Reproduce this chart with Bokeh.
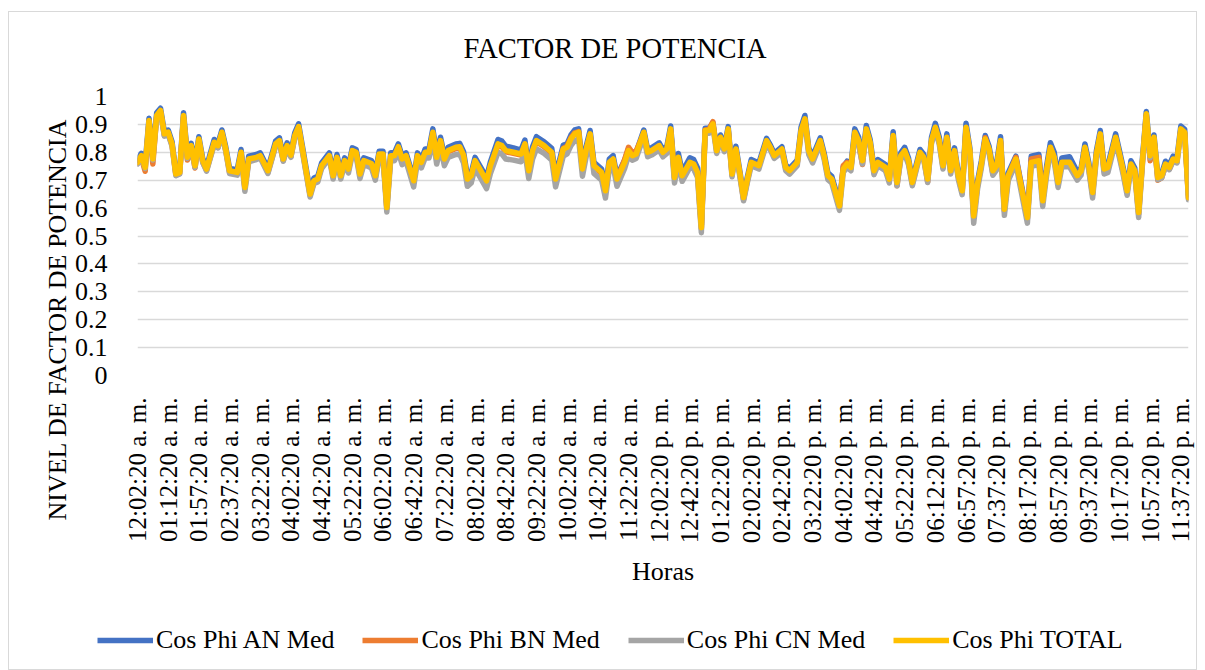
from math import pi
from bokeh.plotting import figure
from bokeh.models import Range1d, FixedTicker, NumeralTickFormatter, Legend, LegendItem, Title
from bokeh.embed import file_html
from bokeh.resources import INLINE

# ---------------- data ----------------
x_labels = ["12:02:20 a. m.", "01:12:20 a. m.", "01:57:20 a. m.", "02:37:20 a. m.", "03:22:20 a. m.",
            "04:02:20 a. m.", "04:42:20 a. m.", "05:22:20 a. m.", "06:02:20 a. m.", "06:42:20 a. m.",
            "07:22:20 a. m.", "08:02:20 a. m.", "08:42:20 a. m.", "09:22:20 a. m.", "10:02:20 a. m.",
            "10:42:20 a. m.", "11:22:20 a. m.", "12:02:20 p. m.", "12:42:20 p. m.", "01:22:20 p. m.",
            "02:02:20 p. m.", "02:42:20 p. m.", "03:22:20 p. m.", "04:02:20 p. m.", "04:42:20 p. m.",
            "05:22:20 p. m.", "06:12:20 p. m.", "06:57:20 p. m.", "07:37:20 p. m.", "08:17:20 p. m.",
            "08:57:20 p. m.", "09:37:20 p. m.", "10:17:20 p. m.", "10:57:20 p. m.", "11:37:20 p. m."]

series_names = ["Cos Phi AN Med", "Cos Phi BN Med", "Cos Phi CN Med", "Cos Phi TOTAL"]

y_ticks = [0, 0.1, 0.2, 0.3, 0.4, 0.5, 0.6, 0.7, 0.8, 0.9, 1.0]

# sample index (category number along the time axis)
idx = [0, 1, 2, 3, 4, 5, 6, 7, 8, 9, 10, 11, 12, 13, 14, 15, 16, 17, 18,
       20, 21, 22, 23, 24, 26, 27, 28, 29, 31, 32, 34, 36, 37, 38, 39, 40, 41, 42, 43,
       45, 46, 47, 48, 50, 51, 52, 53, 54, 55, 56, 57, 58, 59, 61, 62, 63, 64, 65, 66, 67, 68, 69, 70,
       72, 73, 74, 75, 76, 77, 78, 79, 80, 81, 83, 84, 85, 86, 87, 88, 89,
       91, 92, 94, 95, 96, 98, 100, 101, 102, 103, 104, 106, 107, 108, 109, 111, 112, 113, 114, 115, 116, 117, 118, 119,
       121, 122, 123, 124, 125, 127, 128, 129, 130, 132, 133, 134, 136, 137, 138, 139, 140, 141, 142, 144, 145, 146,
       147, 148, 149, 150, 151, 152, 153, 154, 155, 156, 157, 158, 159, 160, 162, 164, 165, 166, 168, 169, 170, 172, 173, 174, 175, 176,
       178, 179, 180, 181, 183, 184, 185, 186, 187, 188, 189, 190, 191, 192, 193, 195, 196, 197, 198, 199, 200, 201, 202,
       204, 205, 206, 207, 208, 209, 210, 211, 212, 213, 214, 215, 216, 217, 218, 219, 220, 221, 222, 223, 224, 225, 226, 227,
       229, 230, 232, 233, 235, 236, 237, 238, 239, 240, 241, 243, 245, 246, 247, 248, 249, 250, 251, 252, 253,
       255, 256, 257, 258, 259, 260, 261, 262, 263, 264, 265, 266, 267, 268, 269, 270, 271, 272, 273, 274]

cos_total = [.764, .788, .746, .914, .776, .932, .950, .866, .872, .830, .722, .728, .932, .782, .824, .752, .848, .770, .740,
             .836, .824, .872, .812, .734, .728, .800, .674, .776, .782, .788, .734, .830, .842, .776, .824, .790, .860, .892, .812,
             .650, .698, .704, .752, .788, .716, .782, .716, .770, .740, .806, .800, .722, .770, .760, .716, .794, .794, .602, .788, .788, .820, .776, .788,
             .698, .788, .764, .800, .800, .872, .782, .842, .776, .806, .818, .820, .790, .704, .716, .770, .746,
             .698, .752, .830, .824, .806, .800, .794, .830, .734, .806, .842, .824, .812, .800, .704, .812, .818, .848, .866, .872, .740, .812, .866, .752,
             .728, .662, .764, .776, .704, .764, .806, .788, .794, .872, .800, .806, .824, .800, .812, .884, .710, .782, .716, .764, .758, .728,
             .530, .878, .878, .902, .806, .854, .812, .884, .722, .812, .728, .638, .704, .764, .752, .842, .818, .788, .812, .746, .734, .764, .878, .920, .806, .776,
             .842, .788, .716, .704, .608, .740, .758, .746, .872, .842, .770, .884, .836, .734, .764, .746, .704, .860, .692, .788, .806, .770, .692,
             .800, .782, .704, .842, .890, .842, .752, .854, .734, .806, .716, .662, .890, .806, .572, .686, .758, .848, .812, .734, .752, .842, .596, .716,
             .776, .704, .566, .764, .770, .626, .734, .818, .782, .692, .764, .764, .716, .734, .818, .752, .656, .794, .866, .740, .746,
             .854, .794, .734, .662, .758, .734, .584, .770, .938, .788, .854, .710, .716, .758, .746, .776, .770, .884, .872, .638]

cos_an = [.772, .796, .758, .922, .790, .942, .958, .874, .880, .838, .728, .734, .942, .792, .832, .760, .856, .778, .748,
          .846, .832, .880, .820, .742, .738, .810, .682, .786, .792, .798, .742, .840, .852, .786, .834, .800, .870, .902, .822,
          .660, .708, .714, .762, .798, .726, .792, .726, .780, .750, .816, .810, .732, .780, .770, .726, .804, .804, .612, .798, .798, .830, .786, .798,
          .708, .798, .774, .812, .812, .884, .794, .854, .788, .818, .830, .832, .802, .716, .726, .782, .758,
          .710, .766, .846, .840, .822, .816, .808, .844, .748, .820, .856, .838, .826, .814, .716, .826, .830, .862, .880, .884, .752, .824, .878, .764,
          .740, .674, .776, .788, .716, .772, .812, .794, .800, .880, .810, .816, .834, .810, .822, .894, .724, .796, .730, .780, .774, .744,
          .540, .886, .886, .906, .816, .862, .820, .892, .730, .822, .736, .646, .712, .774, .762, .850, .826, .796, .820, .754, .742, .772, .890, .932, .816, .786,
          .852, .798, .726, .714, .618, .748, .768, .756, .884, .854, .780, .896, .846, .744, .774, .756, .712, .874, .700, .798, .818, .780, .700,
          .810, .792, .712, .854, .904, .856, .762, .866, .744, .816, .726, .672, .904, .816, .580, .696, .770, .860, .822, .746, .764, .856, .606, .726,
          .786, .714, .576, .786, .792, .640, .750, .834, .800, .708, .780, .784, .730, .744, .830, .764, .666, .806, .878, .752, .756,
          .866, .806, .744, .672, .770, .744, .594, .780, .946, .796, .862, .718, .724, .768, .756, .786, .780, .894, .882, .648]

cos_bn = [.760, .780, .732, .910, .758, .928, .946, .860, .866, .826, .720, .724, .926, .772, .816, .744, .840, .764, .736,
          .830, .818, .866, .806, .728, .724, .796, .670, .772, .778, .784, .728, .824, .836, .770, .818, .784, .854, .886, .806,
          .646, .694, .700, .748, .784, .712, .778, .712, .764, .736, .800, .796, .716, .760, .750, .708, .790, .790, .598, .784, .784, .816, .772, .784,
          .694, .784, .760, .796, .796, .866, .778, .838, .772, .802, .814, .816, .786, .700, .712, .766, .742,
          .694, .748, .826, .820, .802, .796, .790, .826, .730, .802, .838, .820, .808, .796, .700, .814, .822, .852, .870, .874, .736, .808, .862, .748,
          .724, .658, .760, .772, .700, .774, .818, .800, .804, .868, .796, .802, .820, .796, .808, .880, .706, .778, .712, .760, .754, .724,
          .526, .880, .882, .910, .802, .850, .808, .880, .718, .808, .724, .630, .698, .760, .748, .838, .814, .784, .808, .742, .730, .760, .872, .916, .802, .772,
          .838, .784, .712, .700, .604, .752, .764, .742, .862, .830, .756, .878, .830, .728, .758, .740, .698, .852, .680, .782, .800, .764, .686,
          .796, .776, .694, .838, .886, .838, .746, .850, .730, .802, .712, .656, .886, .800, .566, .680, .754, .852, .806, .722, .746, .838, .590, .712,
          .782, .708, .562, .776, .782, .624, .732, .816, .778, .688, .760, .760, .712, .730, .810, .742, .648, .790, .862, .732, .738,
          .850, .788, .728, .656, .752, .728, .578, .764, .932, .770, .846, .700, .708, .752, .740, .772, .766, .880, .868, .636]

cos_cn = [.758, .784, .742, .906, .772, .924, .944, .858, .864, .822, .716, .722, .924, .778, .818, .746, .842, .764, .732,
          .828, .816, .864, .804, .724, .718, .790, .660, .766, .774, .780, .724, .822, .834, .768, .816, .782, .852, .884, .802,
          .640, .688, .694, .742, .778, .704, .770, .704, .758, .726, .792, .786, .706, .756, .744, .700, .778, .778, .586, .770, .770, .800, .756, .768,
          .676, .768, .744, .780, .780, .850, .758, .818, .752, .782, .792, .794, .762, .678, .690, .744, .718,
          .670, .724, .800, .794, .776, .772, .766, .800, .706, .776, .812, .796, .784, .772, .676, .786, .794, .824, .842, .848, .714, .786, .840, .724,
          .700, .636, .738, .750, .678, .742, .788, .772, .778, .856, .784, .790, .808, .784, .796, .868, .690, .762, .696, .746, .740, .710,
          .512, .868, .868, .892, .796, .844, .802, .874, .712, .800, .716, .626, .692, .752, .740, .832, .808, .778, .800, .734, .722, .752, .866, .908, .792, .762,
          .830, .776, .702, .690, .592, .728, .746, .734, .862, .830, .758, .872, .824, .720, .752, .734, .690, .850, .680, .776, .794, .756, .680,
          .790, .772, .692, .832, .880, .830, .740, .842, .722, .794, .702, .648, .878, .794, .546, .668, .744, .836, .798, .718, .738, .828, .574, .698,
          .760, .686, .546, .750, .756, .606, .716, .802, .766, .674, .748, .748, .700, .718, .806, .736, .636, .778, .852, .722, .728,
          .840, .780, .718, .646, .744, .720, .566, .758, .928, .780, .846, .702, .708, .750, .738, .768, .762, .876, .864, .630]

colors = ["#4472C4", "#ED7D31", "#A5A5A5", "#FFC000"]

assert len(idx) == len(cos_total) == len(cos_an) == len(cos_bn) == len(cos_cn), (
    len(idx), len(cos_total), len(cos_an), len(cos_bn), len(cos_cn))

# ---------------- main figure ----------------
FONT = "Liberation Serif"
label_every = 8
LW = 5.5

top_border_css = (":host { position: relative; } "
                  ":host::after { content: ''; position: absolute; left: 8px; top: 11px; width: 1187px; "
                  "height: 578px; border: 1px solid #d9d9d9; border-bottom: none; pointer-events: none; }")
bottom_border_css = (":host { position: relative; } "
                     ":host::after { content: ''; position: absolute; left: 8px; top: 0px; width: 1187px; "
                     "height: 79px; border: 1px solid #d9d9d9; border-top: none; pointer-events: none; }")

p = figure(width=1205, height=590, output_backend="svg", toolbar_location=None,
           x_range=Range1d(0, idx[-1]), y_range=Range1d(0, 1),
           min_border_left=137, min_border_right=17, min_border_top=96, min_border_bottom=215,
           stylesheets=[top_border_css])
p.outline_line_color = None
p.background_fill_color = "white"
p.border_fill_color = "white"

p.title.text = "FACTOR DE POTENCIA"
p.title.text_font = FONT
p.title.text_font_size = "28.5px"
p.title.text_font_style = "normal"
p.title.text_color = "black"
p.title.align = "left"
p.title.offset = 326
p.title.vertical_align = "middle"
p.title.standoff = 63

for vals, col in zip([cos_an, cos_bn, cos_cn, cos_total], colors):
    p.line(idx, vals, line_color=col, line_width=LW, line_join="round", line_cap="round")

# x axis
p.xaxis.ticker = FixedTicker(ticks=[k * label_every for k in range(len(x_labels))])
p.xaxis.major_label_overrides = {k * label_every: lab for k, lab in enumerate(x_labels)}
p.xaxis.major_label_orientation = pi / 2
p.xaxis.major_label_text_font = FONT
p.xaxis.major_label_text_font_size = "25px"
p.xaxis.major_label_text_color = "black"
p.xaxis.major_label_standoff = 16
p.xaxis.major_tick_line_color = None
p.xaxis.minor_tick_line_color = None
p.xaxis.axis_line_color = None
p.xaxis.axis_label = "Horas"
p.xaxis.axis_label_text_font = FONT
p.xaxis.axis_label_text_font_size = "26px"
p.xaxis.axis_label_text_font_style = "normal"
p.xaxis.axis_label_text_color = "black"
p.xaxis.axis_label_standoff = 11

# y axis
p.yaxis.ticker = FixedTicker(ticks=y_ticks)
p.yaxis.formatter = NumeralTickFormatter(format="0.[0]")
p.yaxis.major_label_text_font = FONT
p.yaxis.major_label_text_font_size = "26px"
p.yaxis.major_label_text_color = "black"
p.yaxis.major_label_standoff = 24
p.yaxis.major_tick_line_color = None
p.yaxis.minor_tick_line_color = None
p.yaxis.axis_line_color = None

p.xgrid.visible = False
p.ygrid.ticker = FixedTicker(ticks=y_ticks)
p.ygrid.grid_line_color = "#d9d9d9"
p.ygrid.grid_line_width = 1.3

# vertical axis title as a side title
ytitle = Title(text="NIVEL DE FACTOR DE POTENCIA", align="left", offset=-145, standoff=0,
               text_font=FONT, text_font_size="26px", text_font_style="normal", text_color="black")
p.add_layout(ytitle, "left")

# ---------------- legend strip (separate root, so it is not frame-aligned) ----------------
leg = figure(width=1205, height=80, output_backend="svg", toolbar_location=None,
             x_axis_type=None, y_axis_type=None, min_border=0,
             x_range=Range1d(0, 1), y_range=Range1d(0, 1), stylesheets=[bottom_border_css])
leg.outline_line_color = None
leg.background_fill_color = "white"
leg.border_fill_color = "white"
# legend proxies: lines kept outside the visible range, only their legend glyphs show
leg_renderers = [leg.line([0, 1], [-5, -5], line_color=c, line_width=LW) for c in colors]

legend = Legend(items=[LegendItem(label=n, renderers=[r]) for n, r in zip(series_names, leg_renderers)],
                orientation="horizontal", location=(97, 15), padding=0, margin=0, spacing=28,
                glyph_width=56, glyph_height=30, label_standoff=3, label_height=30,
                label_text_font=FONT, label_text_font_size="26px", label_text_color="black",
                border_line_alpha=0, background_fill_alpha=0)
leg.add_layout(legend)

open("out.html", "w").write(file_html([p, leg], INLINE))
